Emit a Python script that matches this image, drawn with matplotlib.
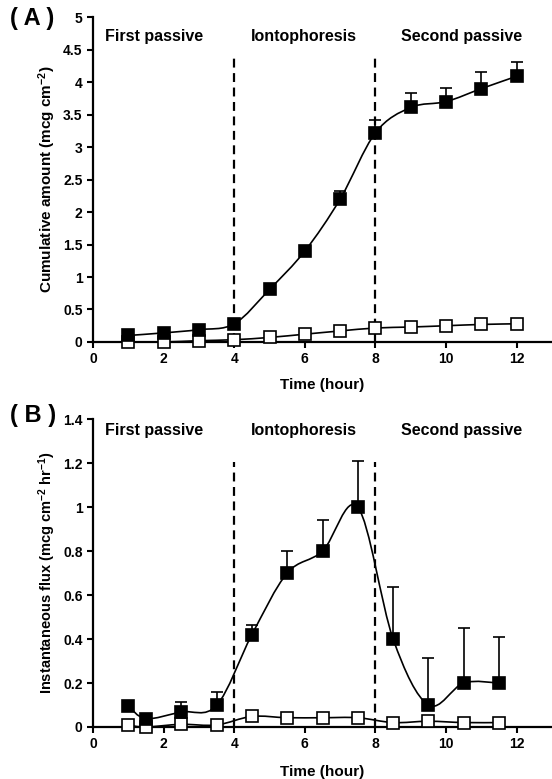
import numpy as np
import matplotlib.pyplot as plt
from matplotlib.path import Path
from matplotlib.patches import PathPatch

plt.rcParams['font.family'] = ['Liberation Sans', 'DejaVu Sans']
plt.rcParams['font.weight'] = 'bold'
plt.rcParams['mathtext.fontset'] = 'custom'
plt.rcParams['mathtext.rm'] = 'Liberation Sans:bold'
plt.rcParams['mathtext.default'] = 'rm'

# %%
# panel A - cumulative amount
hours_a = [1, 2, 3, 4, 5, 6, 7, 8, 9, 10, 11, 12]
cum_ionto = [0.10, 0.14, 0.19, 0.28, 0.81, 1.40, 2.20, 3.22, 3.61, 3.70, 3.90, 4.09]
cum_ionto_err = [0.0, 0.0, 0.0, 0.0, 0.0, 0.06, 0.13, 0.19, 0.22, 0.21, 0.25, 0.22]
cum_passive = [0.0, 0.0, 0.02, 0.035, 0.07, 0.12, 0.17, 0.215, 0.23, 0.25, 0.27, 0.28]

# panel B - instantaneous flux
hours_b = [1, 1.5, 2.5, 3.5, 4.5, 5.5, 6.5, 7.5, 8.5, 9.5, 10.5, 11.5]
flux_ionto = [0.095, 0.038, 0.068, 0.098, 0.42, 0.70, 0.80, 1.00, 0.40, 0.10, 0.20, 0.20]
flux_ionto_err = [0.0, 0.0, 0.046, 0.062, 0.045, 0.10, 0.14, 0.21, 0.236, 0.216, 0.25, 0.21]
flux_passive = [0.008, 0.0, 0.012, 0.009, 0.048, 0.042, 0.042, 0.042, 0.02, 0.026, 0.02, 0.02]

phases = ['First passive', 'Iontophoresis', 'Second passive']
phase_x = [1.72, 5.98, 10.43]


def smooth_line(ax, x, y):
    # excel-style smoothed line through the points (bezier, tension 1/6)
    x = np.asarray(x, float)
    y = np.asarray(y, float)
    n = len(x)
    verts = [(x[0], y[0])]
    codes = [Path.MOVETO]
    for i in range(n - 1):
        p0 = np.array([x[max(i - 1, 0)], y[max(i - 1, 0)]])
        p1 = np.array([x[i], y[i]])
        p2 = np.array([x[i + 1], y[i + 1]])
        p3 = np.array([x[min(i + 2, n - 1)], y[min(i + 2, n - 1)]])
        c1 = p1 + (p2 - p0) / 6
        c2 = p2 - (p3 - p1) / 6
        verts += [tuple(c1), tuple(c2), tuple(p2)]
        codes += [Path.CURVE4] * 3
    ax.add_patch(PathPatch(Path(verts, codes), facecolor='none', edgecolor='black',
                           lw=1.2, zorder=2, clip_on=False))


def style_axes(ax):
    for s in ['top', 'right']:
        ax.spines[s].set_visible(False)
    for s in ['left', 'bottom']:
        ax.spines[s].set_linewidth(1.6)
    ax.tick_params(direction='out', length=4, width=1.5, labelsize=10)
    for lab in ax.get_xticklabels() + ax.get_yticklabels():
        lab.set_fontweight('bold')


def draw_panel(ax, x, y_on, err_on, y_off, dash_top, text_y):
    smooth_line(ax, x, y_on)
    smooth_line(ax, x, y_off)
    ax.errorbar(x, y_on, yerr=[np.zeros(len(err_on)), err_on], fmt='none', ecolor='black',
                elinewidth=1.2, capsize=4, capthick=1.2, zorder=3)
    ax.plot(x, y_off, 's', ms=8, mfc='white', mec='black', mew=1.2, zorder=4, clip_on=False)
    ax.plot(x, y_on, 's', ms=8, mfc='black', mec='black', mew=1.2, zorder=5, clip_on=False)
    for xv in [4, 8]:
        ax.plot([xv, xv], [0, dash_top], color='black', lw=1.6, ls=(0, (4, 2.5)), zorder=1)
    for t, px in zip(phases, phase_x):
        ax.text(px, text_y, t, ha='center', va='center', fontsize=11.5, fontweight='bold')
    ax.set_xlim(0, 13)
    ax.set_xticks([0, 2, 4, 6, 8, 10, 12])
    ax.set_xlabel('Time (hour)', fontsize=11, fontweight='bold', labelpad=8)


fig = plt.figure(figsize=(5.52, 7.79), dpi=100)

ax1 = fig.add_axes([0.1685, 0.561, 0.8315, 0.417])
draw_panel(ax1, hours_a, cum_ionto, cum_ionto_err, cum_passive, 4.38, 4.7)
ax1.set_ylim(0, 5)
ax1.set_yticks(np.arange(0, 5.01, 0.5))
ax1.set_yticklabels(['0', '0.5', '1', '1.5', '2', '2.5', '3', '3.5', '4', '4.5', '5'])
ax1.set_ylabel('Cumulative amount (mcg cm$^{-2}$)', fontsize=11, fontweight='bold')
style_axes(ax1)

ax2 = fig.add_axes([0.1685, 0.0668, 0.8315, 0.395])
draw_panel(ax2, hours_b, flux_ionto, flux_ionto_err, flux_passive, 1.205, 1.35)
ax2.set_ylim(0, 1.4)
ax2.set_yticks(np.arange(0, 1.41, 0.2))
ax2.set_yticklabels(['0', '0.2', '0.4', '0.6', '0.8', '1', '1.2', '1.4'])
ax2.set_ylabel('Instantaneous flux (mcg cm$^{-2}$ hr$^{-1}$)', fontsize=10.5, fontweight='bold')
ax2.xaxis.labelpad = 10
style_axes(ax2)

fig.text(0.018, 0.976, '( A )', fontsize=17, fontweight='bold', va='center')
fig.text(0.018, 0.466, '( B )', fontsize=17, fontweight='bold', va='center')

plt.savefig('out.png', dpi=100)
